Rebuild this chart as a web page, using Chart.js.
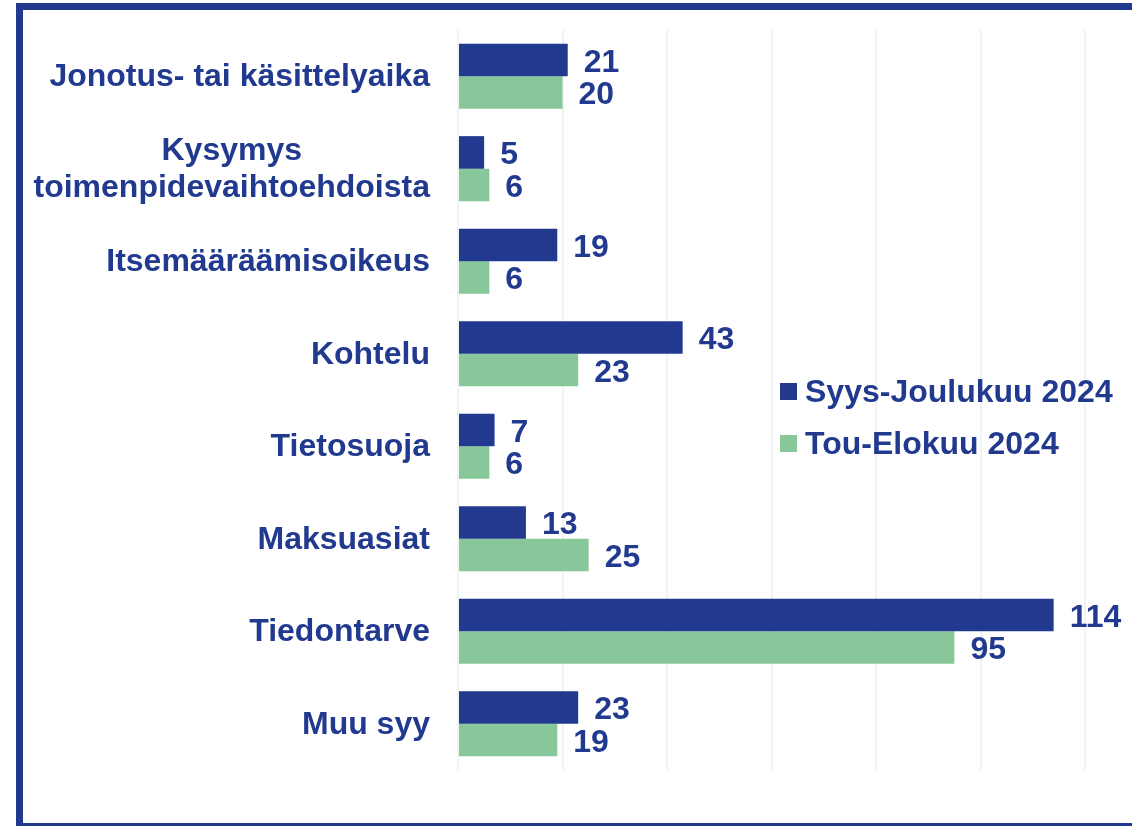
<!DOCTYPE html>
<html lang="fi">
<head>
<meta charset="utf-8">
<title>Yhteydenottojen syyt</title>
<script src="https://cdn.jsdelivr.net/npm/chart.js@4/dist/chart.umd.min.js"></script>
<style>
  html, body { margin: 0; padding: 0; background: #fff; overflow: hidden; }
  #frame {
    position: absolute; left: 16px; top: 3px;
    width: 2000px; height: 813px;
    border: 7px solid #213A8F;
    box-sizing: content-box;
  }
  #wrap { position: absolute; left: 0; top: 0; width: 1132px; height: 826px; }
</style>
</head>
<body>
<div id="frame"></div>
<div id="wrap"><canvas id="chart"></canvas></div>
<script>
// Kategoriat (rivit) ja sarjat
const categories = [
  'Jonotus- tai käsittelyaika',
  ['Kysymys', 'toimenpidevaihtoehdoista'],
  'Itsemääräämisoikeus',
  'Kohtelu',
  'Tietosuoja',
  'Maksuasiat',
  'Tiedontarve',
  'Muu syy'
];
const seriesNames = ['Syys-Joulukuu 2024', 'Tou-Elokuu 2024'];
const syysJoulukuu = [21, 5, 19, 43, 7, 13, 114, 23];
const touElokuu = [20, 6, 6, 23, 6, 25, 95, 19];

const BLUE = '#213A8F';
const GREEN = '#88C799';
const FONT = 'bold 32px "Liberation Sans", Arial, sans-serif';

// Kategorioiden nimet akselin vasemmalle puolelle
const categoryLabels = {
  id: 'categoryLabels',
  afterDraw(chart) {
    const ctx = chart.ctx;
    const yScale = chart.scales.y;
    const right = chart.chartArea.left - 28;
    ctx.save();
    ctx.font = FONT;
    ctx.fillStyle = BLUE;
    ctx.textAlign = 'center';
    ctx.textBaseline = 'middle';
    categories.forEach(function(label, i) {
      const lines = Array.isArray(label) ? label : [label];
      const widest = Math.max.apply(null, lines.map(l => ctx.measureText(l).width));
      const cy = yScale.getPixelForTick(i);
      const lh = 37;
      lines.forEach(function(line, j) {
        const y = cy + (j - (lines.length - 1) / 2) * lh;
        ctx.fillText(line, right - widest / 2, y + 1);
      });
    });
    ctx.restore();
  }
};

// Arvot pylväiden perään
const valueLabels = {
  id: 'valueLabels',
  afterDatasetsDraw(chart) {
    const ctx = chart.ctx;
    ctx.save();
    ctx.font = FONT;
    ctx.fillStyle = BLUE;
    ctx.textAlign = 'left';
    ctx.textBaseline = 'middle';
    chart.data.datasets.forEach(function(ds, di) {
      chart.getDatasetMeta(di).data.forEach(function(bar, i) {
        ctx.fillText(String(ds.data[i]), bar.x + 16, bar.y + 3);
      });
    });
    ctx.restore();
  }
};

// Selite kaavioalueen sisälle
const insideLegend = {
  id: 'insideLegend',
  afterDraw(chart) {
    const ctx = chart.ctx;
    const area = chart.chartArea;
    const x = area.left + 322;
    const y0 = area.top + 361;
    ctx.save();
    ctx.font = FONT;
    ctx.textAlign = 'left';
    ctx.textBaseline = 'middle';
    chart.data.datasets.forEach(function(ds, i) {
      const y = y0 + i * 52;
      ctx.fillStyle = ds.backgroundColor;
      ctx.fillRect(x, y - 8, 17, 17);
      ctx.fillStyle = BLUE;
      ctx.fillText(ds.label, x + 25, y + 2);
    });
    ctx.restore();
  }
};

const ctx = document.getElementById('chart').getContext('2d');
const chart = new Chart(ctx, {
  type: 'bar',
  data: {
    labels: categories,
    datasets: [
      {
        label: seriesNames[0],
        data: syysJoulukuu,
        backgroundColor: BLUE,
        categoryPercentage: 0.705,
        barPercentage: 1
      },
      {
        label: seriesNames[1],
        data: touElokuu,
        backgroundColor: GREEN,
        categoryPercentage: 0.705,
        barPercentage: 1
      }
    ]
  },
  options: {
    indexAxis: 'y',
    responsive: true,
    maintainAspectRatio: false,
    animation: false,
    layout: {
      padding: { left: 458, top: 30, right: 47, bottom: 56 }
    },
    scales: {
      x: {
        min: 0,
        max: 120,
        ticks: { display: false, stepSize: 20 },
        border: { display: false },
        grid: { color: '#EDF4F1', lineWidth: 2, drawTicks: false },
        afterFit(scale) { scale.height = 0; }
      },
      y: {
        display: false
      }
    },
    plugins: {
      legend: { display: false },
      tooltip: { enabled: false }
    }
  },
  plugins: [categoryLabels, valueLabels, insideLegend]
});
</script>
</body>
</html>
